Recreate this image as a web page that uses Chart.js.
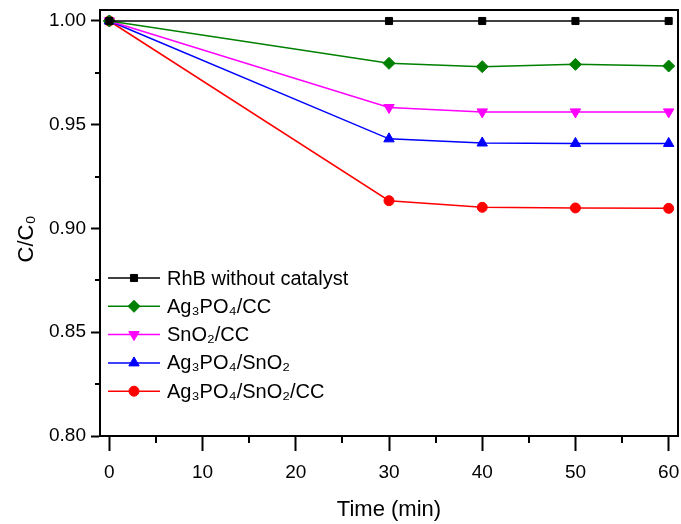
<!DOCTYPE html>
<html>
<head>
<meta charset="utf-8">
<script src="https://cdn.jsdelivr.net/npm/chart.js@4/dist/chart.umd.min.js"></script>
<style>
  html, body { margin: 0; padding: 0; background: #fff; }
  #wrap { width: 681px; height: 524px; }
</style>
</head>
<body>
<div id="wrap"><canvas id="chart" width="681" height="524"></canvas></div>
<script>
// data
const times = [0, 30, 40, 50, 60];
const rhbBlank = [1.000, 1.000, 1.000, 1.000, 1.000];
const agpoCC = [1.000, 0.9796, 0.9780, 0.9791, 0.9783];
const snoCC = [1.000, 0.9583, 0.9562, 0.9562, 0.9562];
const agpoSno = [1.000, 0.9432, 0.9412, 0.9410, 0.9410];
const agpoSnoCC = [1.000, 0.9134, 0.9102, 0.9099, 0.9097];

const xTicks = [0, 10, 20, 30, 40, 50, 60];
const xMinor = [5, 15, 25, 35, 45, 55];
const yTicks = [0.80, 0.85, 0.90, 0.95, 1.00];
const yMinor = [0.825, 0.875, 0.925, 0.975];

const FONT = '"Liberation Sans", Arial, sans-serif';

function series(label, values, color, style, radius, rot) {
    return {
        label: label,
        data: times.map((t, i) => ({ x: t, y: values[i] })),
        borderColor: color,
        backgroundColor: color,
        borderWidth: 1.5,
        pointStyle: style,
        pointRadius: radius,
        pointRotation: rot || 0,
        pointBorderWidth: 1,
        tension: 0,
        clip: false
    };
}

const datasets = [
    series('RhB without catalyst', rhbBlank, '#000000', 'rect', 5),
    series('Ag₃PO₄/CC', agpoCC, '#008000', 'rectRot', 6),
    series('SnO₂/CC', snoCC, '#ff00ff', 'triangle', 6, 180),
    series('Ag₃PO₄/SnO₂', agpoSno, '#0000ff', 'triangle', 6),
    series('Ag₃PO₄/SnO₂/CC', agpoSnoCC, '#ff0000', 'circle', 5)
];

// frame, minor ticks, y title and a line+marker legend
const extras = {
    id: 'extras',
    afterDraw(chart) {
        const ctx = chart.ctx;
        const a = chart.chartArea;
        const xs = chart.scales.x, ys = chart.scales.y;
        ctx.save();
        ctx.strokeStyle = '#000';
        ctx.lineWidth = 2;
        ctx.beginPath();
        ctx.moveTo(a.left, a.top); ctx.lineTo(a.right, a.top); ctx.lineTo(a.right, a.bottom);
        ctx.stroke();
        xMinor.forEach(v => {
            const px = Math.round(xs.getPixelForValue(v));
            ctx.beginPath(); ctx.moveTo(px, a.bottom); ctx.lineTo(px, a.bottom + 7); ctx.stroke();
        });
        yMinor.forEach(v => {
            const py = Math.round(ys.getPixelForValue(v));
            ctx.beginPath(); ctx.moveTo(a.left, py); ctx.lineTo(a.left - 5, py); ctx.stroke();
        });

        // y axis title
        ctx.save();
        ctx.translate(27, 239);
        ctx.rotate(-Math.PI / 2);
        ctx.font = '22px ' + FONT;
        ctx.fillStyle = '#000';
        ctx.textAlign = 'center';
        ctx.textBaseline = 'middle';
        ctx.fillText('C/C₀', 0, 0);
        ctx.restore();

        // legend
        const lx0 = 108, lx1 = 160, tx = 167;
        let ly = 278;
        ctx.font = '20px ' + FONT;
        ctx.textBaseline = 'middle';
        ctx.textAlign = 'left';
        chart.data.datasets.forEach((ds) => {
            ctx.strokeStyle = ds.borderColor;
            ctx.lineWidth = 1.5;
            ctx.beginPath(); ctx.moveTo(lx0, ly); ctx.lineTo(lx1, ly); ctx.stroke();
            ctx.fillStyle = ds.borderColor;
            ctx.lineWidth = 1;
            Chart.helpers.drawPoint(ctx, {
                pointStyle: ds.pointStyle,
                rotation: ds.pointRotation,
                radius: ds.pointRadius,
                borderWidth: 1
            }, (lx0 + lx1) / 2, ly);
            ctx.fillStyle = '#000';
            ctx.fillText(ds.label, tx, ly + 1);
            ly += 28.3;
        });
        ctx.restore();
    }
};

new Chart(document.getElementById('chart'), {
    type: 'line',
    data: { datasets: datasets },
    plugins: [extras],
    options: {
        responsive: false,
        animation: false,
        layout: { autoPadding: false, padding: { top: 10, right: 3, left: 0, bottom: 0 } },
        plugins: { legend: { display: false }, tooltip: { enabled: false } },
        scales: {
            x: {
                type: 'linear',
                min: -1,
                max: 61,
                afterBuildTicks: s => { s.ticks = xTicks.map(v => ({ value: v })); },
                afterFit: s => { s.height = 88; s.paddingLeft = 0; s.paddingRight = 0; },
                grid: { drawOnChartArea: false, drawTicks: true, tickLength: 15, tickColor: '#000', tickWidth: 2 },
                border: { color: '#000', width: 2 },
                ticks: { color: '#000', font: { family: FONT, size: 19 }, padding: 10, maxRotation: 0 },
                title: { display: true, text: 'Time (min)', color: '#000', font: { family: FONT, size: 22 }, padding: { top: 0, bottom: 1 } }
            },
            y: {
                min: 0.80,
                max: 1.0053,
                afterBuildTicks: s => { s.ticks = yTicks.map(v => ({ value: v })); },
                afterFit: s => { s.width = 100; s.paddingTop = 0; s.paddingBottom = 0; },
                grid: { drawOnChartArea: false, drawTicks: true, tickLength: 9, tickColor: '#000', tickWidth: 2 },
                border: { color: '#000', width: 2 },
                ticks: { color: '#000', font: { family: FONT, size: 19 }, padding: 5, callback: v => v.toFixed(2) }
            }
        }
    }
});
</script>
</body>
</html>
